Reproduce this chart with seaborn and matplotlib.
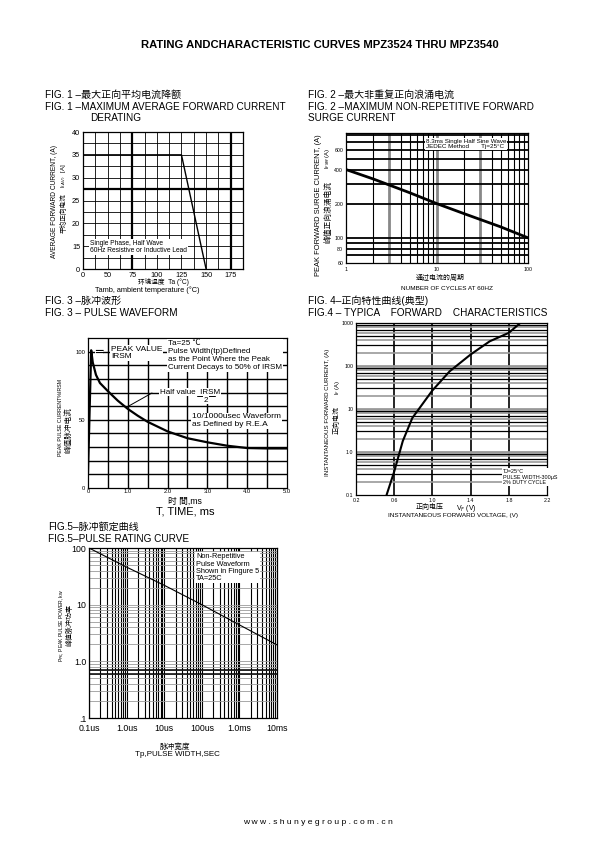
import numpy as np
import seaborn as sns
import matplotlib.pyplot as plt
from matplotlib.lines import Line2D

# FIG.1 derating (the sheet prints "0" at the axis origins)
derate_temp = [25, 125, 150]
derate_current = [35, 35, 10]
derate_xticks = [25, 50, 75, 100, 125, 150, 175]
derate_xlabels = ["0", "50", "75", "100", "125", "150", "175"]
derate_yticks = [10, 15, 20, 25, 30, 35, 40]
derate_ylabels = ["0", "15", "20", "25", "30", "35", "40"]

# FIG.2 surge current vs cycles
surge_cycles = [1, 2, 5, 10, 20, 50, 100]
surge_current = [400, 330, 250, 200, 163, 125, 100]
surge_yticks = [60, 80, 100, 200, 400, 600]

# FIG.3 pulse waveform
pulse_time = [0.0, 0.08, 0.12, 0.2, 0.3, 0.5, 0.75, 1.0, 1.25, 1.5, 2.0, 2.5, 3.0, 3.5, 4.0, 4.5, 5.0]
pulse_pct = [11, 101, 92, 83, 77, 71, 64, 58, 53, 48.5, 41.5, 36.5, 33.5, 31, 29.3, 29, 29]

# FIG.4 forward characteristics
fwd_voltage = [0.52, 0.6, 0.69, 0.79, 1.0, 1.18, 1.4, 1.6, 1.8, 1.92]
fwd_current = [0.1, 0.35, 1.8, 6.2, 27, 75, 185, 375, 590, 1000]

# FIG.5 pulse rating
pr_width = [1e-7, 1e-6, 1e-5, 1e-4, 1e-3, 1e-2]
pr_power = [100, 46, 22, 10, 4.4, 1.95]
pr_xlabels = ["0.1us", "1.0us", "10us", "100us", "1.0ms", "10ms"]
pr_ylabels = [".1", "1.0", "10", "100"]

sns.set_theme(style="white")
plt.rcParams['font.family'] = ['Liberation Sans', 'Noto Sans CJK SC', 'DejaVu Sans']
plt.rcParams['axes.unicode_minus'] = False

W, H = 595, 842
fig = plt.figure(figsize=(5.95, 8.42), dpi=100)
fig.patch.set_facecolor('white')


def box(x0, y0, x1, y1):
    return [x0 / W, 1 - y1 / H, (x1 - x0) / W, (y1 - y0) / H]


def ftext(x, y, s, **kw):
    kw.setdefault('va', 'center')
    kw.setdefault('color', 'black')
    return fig.text(x / W, 1 - y / H, s, **kw)


def fline(x0, y0, x1, y1, lw=0.6):
    fig.add_artist(Line2D([x0 / W, x1 / W], [1 - y0 / H, 1 - y1 / H],
                          color='black', lw=lw))


def frame(ax, size):
    for s in ax.spines.values():
        s.set_color('black')
        s.set_linewidth(0.9)
    ax.tick_params(length=0, pad=2, colors='black', labelsize=size)
    ax.set_facecolor('white')
    ax.grid(False)
    ax.set_xlabel('')
    ax.set_ylabel('')


white = dict(fc='white', ec='none', pad=0.6)

# header / footer
ftext(320, 45, "RATING ANDCHARACTERISTIC CURVES MPZ3524 THRU MPZ3540",
      fontsize=8.1, weight='bold', ha='center')
ftext(318, 822, "w w w . s h u n y e g r o u p . c o m . c n", fontsize=6.1, ha='center')

# ---------------- FIG 1 ----------------
ax1 = fig.add_axes(box(83, 132, 243, 269))
for x in np.arange(37.5, 187.5, 12.5):
    ax1.axvline(x, color='black', lw=1.6 if x in (75, 175) else 0.6, zorder=0)
for y in np.arange(12.5, 40, 2.5):
    ax1.axhline(y, color='black', lw=1.6 if y == 27.5 else 0.6, zorder=0)
sns.lineplot(x=derate_temp, y=derate_current, ax=ax1, color='black', lw=1.0)
ax1.set_xlim(25, 187.5)
ax1.set_ylim(10, 40)
ax1.set_xticks(derate_xticks, derate_xlabels)
ax1.set_yticks(derate_yticks, derate_ylabels)
frame(ax1, 5.3)

ftext(45, 95, "FIG. 1 –最大正向平均电流降额", fontsize=7.2)
ftext(45, 107, "FIG. 1 –MAXIMUM AVERAGE FORWARD CURRENT", fontsize=7.2)
ftext(90, 118, "DERATING", fontsize=7.2)
ftext(90, 247, "Single Phase, Half Wave\n60Hz Resistive or Inductive Lead",
      fontsize=4.8, linespacing=1.1, bbox=white)
ftext(55, 202, "AVERAGE FORWARD CURRENT, (A)", fontsize=4.8, rotation=90, ha='center')
ftext(64, 176, "I$_{(AV)}$   [A]", fontsize=4.3, rotation=90, ha='center')
ftext(64, 213, "平均正向电流", fontsize=4.8, rotation=90, ha='center')
ftext(163, 282, "环境温度  Ta (°C)", fontsize=4.8, ha='center')
ftext(147, 290, "Tamb, ambient temperature (°C)", fontsize=5.3, ha='center')

# ---------------- FIG 2 ----------------
ax2 = fig.add_axes(box(346, 133, 528, 263))
ax2.set_xscale('log')
ax2.set_yscale('log')
for dec in (1, 10):
    for m in range(2, 10):
        v = m * dec
        gray = m == 3
        ax2.axvline(v, color='#888888' if gray else 'black', lw=2.0 if gray else 0.8, zorder=0)
ax2.axvline(10, color='#888888', lw=2.0, zorder=0)
for v in (70, 80, 90, 100, 200, 300, 400, 500, 600, 700, 800):
    ax2.axhline(v, color='black', lw=1.3, zorder=0)
sns.lineplot(x=surge_cycles, y=surge_current, ax=ax2, color='black', lw=2.0)
ax2.set_xlim(1, 100)
ax2.set_ylim(60, 840)
ax2.set_xticks([1, 10, 100], ["1", "10", "100"])
ax2.set_yticks(surge_yticks, [str(v) for v in surge_yticks])
ax2.minorticks_off()
frame(ax2, 3.8)
ax2.tick_params(axis='x', pad=3)

ftext(308, 95, "FIG. 2 –最大非重复正向浪涌电流", fontsize=7.2)
ftext(308, 107, "FIG. 2 –MAXIMUM NON-REPETITIVE FORWARD", fontsize=7.2)
ftext(308, 118, "SURGE CURRENT", fontsize=7.2)
ftext(426, 144, "8.3ms Single Half Sine Wave\nJEDEC Method       Tj=25°C",
      fontsize=4.5, linespacing=1.2, bbox=white)
ftext(318, 205, "PEAK FORWARD SURGE CURRENT, (A)", fontsize=5.4, rotation=90, ha='center')
ftext(328, 158, "I$_{FSM}$ (A)", fontsize=4.2, rotation=90, ha='center')
ftext(328, 212, "峰值正向浪涌电流", fontsize=5.6, rotation=90, ha='center')
ftext(440, 278, "通过电流的周期", fontsize=5.0, ha='center')
ftext(447, 289, "NUMBER OF CYCLES AT 60HZ", fontsize=4.6, ha='center')

# ---------------- FIG 3 ----------------
ax3 = fig.add_axes(box(88, 338, 287, 488))
for x in np.arange(0.5, 5.0, 0.5):
    ax3.axvline(x, color='black', lw=1.0, zorder=0)
for y in range(10, 101, 10):
    ax3.axhline(y, color='black', lw=1.0, zorder=0)
sns.lineplot(x=pulse_time, y=pulse_pct, ax=ax3, color='black', lw=1.6)
ax3.set_xlim(0, 5)
ax3.set_ylim(0, 110)
ax3.set_xticks([0, 1, 2, 3, 4, 5], ["0", "1.0", "2.0", "3.0", "4.0", "5.0"])
ax3.set_yticks([0, 50, 100], ["0", "50", "100"])
frame(ax3, 4.2)
ax3.tick_params(axis='x', pad=1)

ftext(45, 301, "FIG. 3 –脉冲波形", fontsize=7.2)
ftext(45, 313, "FIG. 3 – PULSE WAVEFORM", fontsize=7.2)
ftext(99, 352, "═", fontsize=9, ha='center', family='DejaVu Sans',
      bbox=dict(fc='white', ec='none', pad=0.2))
ftext(111, 353, "PEAK VALUE\nIRSM", fontsize=6, linespacing=1.15, bbox=white)
ftext(168, 340, "Ta=25 ℃\nPulse Width(tp)Defined\nas the Point Where the Peak\nCurrent Decays to 50% of IRSM",
      fontsize=5.8, va='top', linespacing=1.2, bbox=white)
ftext(160, 392, "Half value  IRSM", fontsize=5.8, bbox=white)
ftext(206, 400, "2", fontsize=5.8, ha='center', bbox=white)
fline(197, 396, 215, 396, lw=0.7)
fline(152, 393, 127, 407, lw=0.7)
ftext(192, 421, "10/1000usec Waveform\nas Defined by R.E.A", fontsize=6,
      linespacing=1.2, bbox=white)
ftext(60, 418, "PEAK PULSE CURRENT%IRSM", fontsize=3.8, rotation=90, ha='center')
ftext(68, 430, "峰值脉冲电流", fontsize=5.5, rotation=90, ha='center')
ftext(185, 501, "时 間,ms", fontsize=6.3, ha='center')
ftext(185, 511, "T, TIME, ms", fontsize=8, ha='center')

# ---------------- FIG 4 ----------------
ax4 = fig.add_axes(box(356, 323, 547, 495))
ax4.set_yscale('log')
for x in (0.6, 1.0, 1.4, 1.8):
    ax4.axvline(x, color='black', lw=1.2, zorder=0)
for dec in (0.1, 1, 10, 100):
    for m in range(1, 10):
        v = m * dec
        if v <= 0.1:
            continue
        if m == 1:
            ax4.axhline(v, color='#999999', lw=2.0, zorder=0)
        elif m % 2:
            ax4.axhline(v, color='black', lw=0.9, zorder=0)
        else:
            ax4.axhline(v, color='#999999', lw=1.2, zorder=0)
sns.lineplot(x=fwd_voltage, y=fwd_current, ax=ax4, color='black', lw=1.5)
ax4.set_xlim(0.2, 2.2)
ax4.set_ylim(0.1, 1000)
ax4.set_xticks([0.2, 0.6, 1.0, 1.4, 1.8, 2.2], ["0.2", "0.6", "1.0", "1.4", "1.8", "2.2"])
ax4.set_yticks([0.1, 1, 10, 100, 1000], ["0.1", "1.0", "10", "100", "1000"])
ax4.minorticks_off()
frame(ax4, 3.8)

ftext(308, 301, "FIG. 4–正向特性曲线(典型)", fontsize=7.2)
ftext(308, 313, "FIG.4 – TYPICA    FORWARD    CHARACTERISTICS", fontsize=7.2)
ftext(503, 477, "TJ=25°C\nPULSE WIDTH-300μS\n2% DUTY CYCLE", fontsize=3.9,
      linespacing=1.15, bbox=white)
ftext(327, 412, "INSTANTANEOUS FORWARD CURRENT, (A)", fontsize=4.4, rotation=90, ha='center')
ftext(337, 387, "I$_F$ (A)", fontsize=4.2, rotation=90, ha='center')
ftext(337, 420, "正向电流", fontsize=5, rotation=90, ha='center')
ftext(444, 508, "正向电压", fontsize=5, ha='right')
ftext(456, 508, "V$_F$ (V)", fontsize=5, ha='left')
ftext(453, 516, "INSTANTANEOUS FORWARD VOLTAGE, (V)", fontsize=4.6, ha='center')

# ---------------- FIG 5 ----------------
ax5 = fig.add_axes(box(89, 548, 277, 718))
ax5.set_xscale('log')
ax5.set_yscale('log')
for e in range(-7, -2):
    for m in range(1, 10):
        ax5.axvline(m * 10.0 ** e, color='black', lw=0.8, zorder=0)
for e in range(-1, 2):
    for m in range(1, 10):
        ax5.axhline(m * 10.0 ** e, color='#9a9a9a', lw=0.6, zorder=0)
for v in (0.6, 0.7):
    ax5.axhline(v, color='black', lw=1.1, zorder=0)
sns.lineplot(x=pr_width, y=pr_power, ax=ax5, color='black', lw=0.8)
ax5.set_xlim(1e-7, 1e-2)
ax5.set_ylim(0.1, 100)
ax5.set_xticks(pr_width, pr_xlabels)
ax5.set_yticks([0.1, 1, 10, 100], pr_ylabels)
ax5.minorticks_off()
frame(ax5, 6.3)
ax5.tick_params(axis='x', pad=4)

ftext(48, 527, "FIG.5–脉冲额定曲线", fontsize=7.2)
ftext(48, 539, "FIG.5–PULSE RATING CURVE", fontsize=7.2)
ftext(196, 553, "Non-Repetitive\nPulse Waveform\nShown in Fingure 5\nTA=25C",
      fontsize=5.3, va='top', linespacing=1.1, bbox=white)
ftext(62, 625, "P$_{PK}$, PEAK PULSE POWER, kw", fontsize=3.6, rotation=90, ha='center')
ftext(70, 625, "峰值脉冲功率", fontsize=5, rotation=90, ha='center')
ftext(175, 747, "脉冲宽度", fontsize=5.5, ha='center')
ftext(177, 755, "Tp,PULSE WIDTH,SEC", fontsize=5.8, ha='center')

plt.savefig("out.png", dpi=100, facecolor='white')
